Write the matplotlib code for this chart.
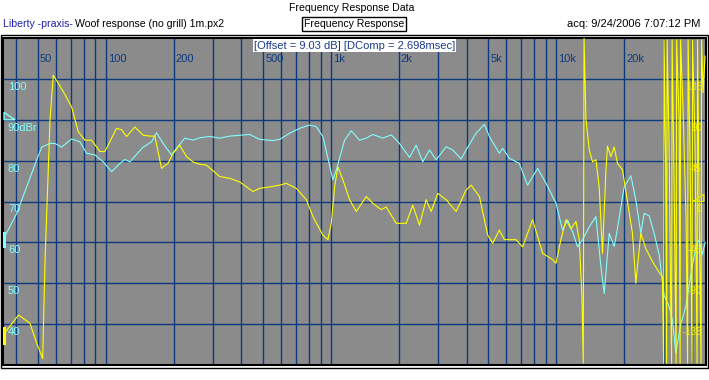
import matplotlib.pyplot as plt
from matplotlib.patches import Rectangle, Polygon

W, H = 709, 380

# magnitude trace (cyan), Hz / dB
mag_freq = [35.0, 40.3, 49.4, 52.0, 56.6, 59.5, 63.7, 70.6, 76.8, 82.3, 89.6, 97.5,
            106.2, 115.6, 121.6, 128.0, 146.6, 159.7, 168.1, 179.9, 195.9, 206.2,
            224.4, 244.2, 261.7, 289.7, 320.8, 355.2, 435.6, 482.6, 552.6, 591.8,
            655.4, 725.7, 803.6, 860.5, 920.6, 968.9, 1019.5, 1055.6, 1148.9, 1230.3,
            1339.2, 1434, 1533.6, 1698.6, 1851.1, 2014, 2230.6, 2388.4, 2555, 2735.6,
            2930.4, 3244.4, 3470, 3781, 3978, 4406, 4796, 5047, 5588, 5781, 6190,
            6855, 7462, 8264, 9001, 9970, 10665, 11222, 11814, 12432, 13083, 14010,
            14997, 15786, 16326, 17179, 18075, 18638, 20019, 21440, 22553, 23734,
            24550, 25835, 27190, 28616, 30113, 31690, 32775, 33934, 35714, 37580,
            39550, 41620, 43040, 44510, 45760]
mag_db = [60.6, 67.1, 80.2, 83.3, 84.2, 84.2, 83.3, 85.3, 84.6, 81.8, 81.4, 79.7,
          77.3, 79.3, 80.3, 79.7, 83.3, 84.6, 86.8, 84.2, 81.4, 83.0,
          85.5, 85.0, 85.6, 85.9, 85.5, 86.0, 86.4, 85.2, 84.9, 85.2,
          86.7, 87.9, 88.7, 88.3, 85.9, 80.6, 75.3, 77.7, 85.0, 87.3,
          85.0, 85.5, 86.4, 85.5, 86.3, 84.2, 80.8, 83.8, 79.7, 82.6,
          80.2, 83.4, 82.6, 80.4, 82.6, 86.7, 88.9, 85.9, 81.8, 83.0, 80.6,
          79.3, 74.0, 78.1, 74.5, 69.6, 63.0, 65.5, 62.6, 58.9, 60.6, 63.8,
          66.3, 54.0, 47.5, 62.2, 59.0, 63.0, 73.6, 76.3, 70.4, 62.2,
          67.1, 66.5, 62.2, 57.0, 47.0, 44.3, 41.0, 32.9, 40.0, 44.3,
          52.0, 58.9, 60.6, 57.0, 60.0]

# phase trace (yellow), Hz / degrees
ph_freq = [35.1, 41.0, 46.1, 49.4, 52.5, 53.8, 56.6, 58.5, 64.8, 70.6, 75.5, 80.9,
           86.6, 94.3, 99.2, 111.7, 117.6, 123.8, 134.7, 146.6, 157.0, 165.2, 176.9,
           189.2, 199.1, 213.2, 228.3, 244.2, 261.7, 280.1, 320.8, 355.2, 393.3,
           450.4, 482.6, 534.2, 591.8, 633.6, 701.6, 777.0, 831.4, 920.6, 968.9,
           1003, 1037.5, 1073, 1129, 1209, 1295, 1434, 1533.6, 1671, 1758, 1947,
           2157, 2307, 2470, 2645, 2784, 2978, 3244, 3593, 3978, 4187, 4558, 4962,
           5220, 5588, 5884, 6628, 7090, 7852, 8696, 9630, 9970, 10482, 11040,
           11620, 12230, 12647, 13000, 13177, 13284, 13543, 14010, 14485, 14997,
           15507, 16039, 16606, 16880, 17475, 18075, 18694, 19672, 20705, 21785,
           22553, 23734, 24980, 26730, 28616, 29600,
           29960, 30113, 30580, 30893, 31046, 31690, 32175, 32508, 32673, 33343,
           34035, 34207, 35094, 35452, 35632, 36553, 37692, 38278, 38470, 39264,
           40068, 40272, 41316, 42170, 42385, 43040, 43920, 44145, 44830, 45760]
ph_deg = [-147, -125, -134, -156, -173, -64, 90, 139, 121, 104, 77, 67.5,
          67.5, 55, 55, 80.5, 79, 71.5, 82, 73, 72, 72, 36.5,
          42, 53, 62, 49.5, 43.5, 41, 40, 27.5, 25.5, 21.5,
          11, 14.5, 16, 18, 20, 14.5, 2, -16.5, -37, -42,
          -24, 16, 38, 24, 2, -11, 5.5, -2, -9, -6, -24,
          -24, -4, -26, 2, -11, 9, 2, -11, 12.6, 18, 5.5, -37,
          -46, -31.5, -42, -42, -50, -20, -57, -64, -68, -42, -20,
          -30, -22, -42, -105, -178, 180, 90, 57, 43.5, 46,
          16, -57, 33, 61, 49.5, 60, 42, 35, 0, -35,
          -90, -35, -52, -66, -78, -83,
          -178, 178, 40, -178, 178, 60, -100, -178, 178, 20,
          -178, 178, 90, -178, 178, 100, -20, -178, 178, 45,
          -178, 178, 60, -178, 178, 0, -178, 178, 120, 160]

x_ticks = [50, 100, 200, 500, 1000, 2000, 5000, 10000, 20000]
x_tick_labels = ['50', '100', '200', '500', '1k', '2k', '5k', '10k', '20k']
db_ticks = [40, 50, 60, 70, 80, 90, 100]
db_labels = ['40', '50', '60', '70', '80', '90dBr', '100']
ph_ticks = [-135, -90, -45, 0, 45, 90, 135]
ph_labels = ['-135', '-90', '-45', '0', '45', '90', '135']

grid_col = '#0d3a7e'
cyan = '#80ffff'
yellow = '#ffff00'

plt.rcParams['font.family'] = ['Liberation Sans', 'DejaVu Sans']
plt.rcParams['font.size'] = 7.6

fig = plt.figure(figsize=(W / 100, H / 100), dpi=100)
ax = fig.add_axes([3 / W, 1 - 365 / H, 703 / W, 327 / H])
ax.set_facecolor('#8b8b8b')
ax.set_xscale('log')
ax.set_xlim(35, 46200)
ax.set_ylim(30, 110)
ax.set_xticks([])
ax.set_yticks([])
ax.minorticks_off()
for s in ax.spines.values():
    s.set_color('black')
    s.set_linewidth(1.5)

# log grid
for dec in [10, 100, 1000, 10000]:
    for m in range(1, 10):
        f = dec * m
        if 35 < f < 46200:
            ax.axvline(f, color=grid_col, lw=1, zorder=1)
for v in db_ticks:
    ax.axhline(v, color=grid_col, lw=1, zorder=1)

ax.plot(mag_freq, mag_db, color=cyan, lw=0.8, zorder=3)
# trace start marks on the left edge
ax.plot([0.002, 0.002], [59.2, 62.2], color=cyan, lw=2.2,
        transform=ax.get_yaxis_transform(), zorder=5)
ax.plot([0.002, 0.002], [35.5, 39.0], color=yellow, lw=2.2,
        transform=ax.get_yaxis_transform(), zorder=5)

ax2 = ax.twinx()
ax2.set_ylim(-180, 180)
ax2.set_yticks([])
for s in ax2.spines.values():
    s.set_visible(False)
ax2.plot(ph_freq, ph_deg, color=yellow, lw=0.8, zorder=4)

# axis labels drawn inside the plot
for f, lab in zip(x_ticks, x_tick_labels):
    ax.annotate(lab, xy=(f, 1), xycoords=('data', 'axes fraction'),
                xytext=(2, -21), textcoords='offset pixels',
                ha='left', va='center', color=grid_col, fontsize=8)
for v, lab in zip(db_ticks, db_labels):
    ax.annotate(lab, xy=(0, v), xycoords=('axes fraction', 'data'),
                xytext=(5, -8), textcoords='offset pixels',
                ha='left', va='center', color=cyan, fontsize=8)
for v, lab in zip(ph_ticks, ph_labels):
    ax2.annotate(lab, xy=(1, v), xycoords=('axes fraction', 'data'),
                 xytext=(-4, -8), textcoords='offset pixels',
                 ha='right', va='center', color='#e6e600', fontsize=7)

# reference markers (dBr on the left, phase zero on the right)
ax.add_patch(Polygon([(0.0015, 91.8), (0.0015, 90), (0.017, 90)], closed=True,
                     fill=False, ec=cyan, lw=1, transform=ax.get_yaxis_transform(),
                     zorder=5))
ax2.add_patch(Polygon([(0.997, 8), (0.997, 0), (0.981, 0)], closed=True,
                      fill=False, ec='#e6e600', lw=1, transform=ax2.get_yaxis_transform(),
                      zorder=5))

ax.text(0.5, 0.977, '[Offset = 9.03 dB] [DComp = 2.698msec]', transform=ax.transAxes,
        ha='center', va='center', color='#1a3a8a', fontsize=8,
        bbox=dict(boxstyle='square,pad=0.1', fc='white', ec='none'))


def px(x, y):
    return x / W, 1 - y / H


fig.text(*px(352, 8), 'Frequency Response Data', ha='center', va='center')
fig.text(*px(3, 24), 'Liberty -praxis-', ha='left', va='center', color='#2020b0')
fig.text(*px(75, 24), 'Woof response (no grill) 1m.px2', ha='left', va='center')
fig.text(*px(354, 24), 'Frequency Response', ha='center', va='center',
         bbox=dict(boxstyle='square,pad=0.15', fc='white', ec='black', lw=1))
fig.text(*px(700, 24), 'acq: 9/24/2006 7:07:12 PM', ha='right', va='center', fontsize=8)

fig.add_artist(Rectangle(px(0.5, 368), 707.5 / W, 333 / H, fill=False, ec='black', lw=1,
                         transform=fig.transFigure))

fig.savefig('out.png', dpi=100, facecolor='white')
